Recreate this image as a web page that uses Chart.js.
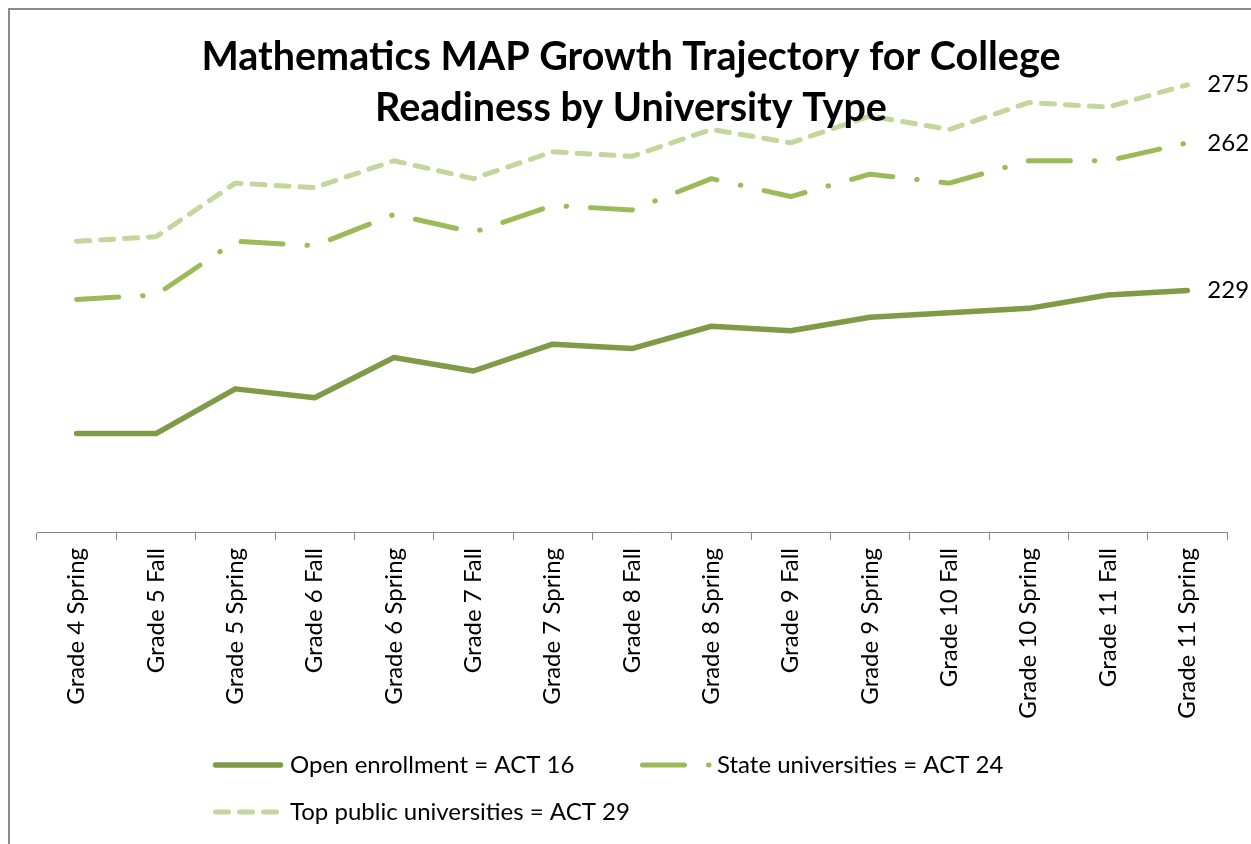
<!DOCTYPE html>
<html>
<head>
<meta charset="utf-8">
<script src="https://cdn.jsdelivr.net/npm/chart.js@4"></script>
<style>
  html, body { margin: 0; padding: 0; background: #fff; }
  #wrap { position: relative; width: 1251px; height: 844px; overflow: hidden; }
  #frame { position: absolute; left: 8px; top: 8px; width: 1400px; height: 1000px;
           border-left: 2px solid #8a8a8a; border-top: 2px solid #8a8a8a; }
  canvas { position: absolute; left: 0; top: 0; }
</style>
</head>
<body>
<div id="wrap">
  <div id="frame"></div>
  <canvas id="chart" width="1251" height="844"></canvas>
</div>
<script>
// data
const categories = ['Grade 4 Spring', 'Grade 5 Fall', 'Grade 5 Spring', 'Grade 6 Fall', 'Grade 6 Spring',
  'Grade 7 Fall', 'Grade 7 Spring', 'Grade 8 Fall', 'Grade 8 Spring', 'Grade 9 Fall', 'Grade 9 Spring',
  'Grade 10 Fall', 'Grade 10 Spring', 'Grade 11 Fall', 'Grade 11 Spring'];
const openEnrollment = [197, 197, 207, 205, 214, 211, 217, 216, 221, 220, 223, 224, 225, 228, 229];
const stateUniversities = [227, 228, 240, 239, 246, 242, 248, 247, 254, 250, 255, 253, 258, 258, 262];
const topPublic = [240, 241, 253, 252, 258, 254, 260, 259, 265, 262, 268, 265, 271, 270, 275];
const seriesNames = ['Open enrollment = ACT 16', 'State universities = ACT 24', 'Top public universities = ACT 29'];
const titleLines = ['Mathematics MAP Growth Trajectory for College', 'Readiness by University Type'];

const FONT = 'Lato, "Open Sans", sans-serif';

// title, value labels at the end of each line and the legend
const overlay = {
  id: 'overlay',
  afterDraw(chart) {
    const ctx = chart.ctx;
    ctx.save();
    ctx.fillStyle = '#000';
    ctx.textAlign = 'center';
    ctx.textBaseline = 'middle';
    ctx.font = 'bold 39.5px ' + FONT;
    ctx.fillText(titleLines[0], 631, 57);
    ctx.fillText(titleLines[1], 631, 108);

    ctx.font = '24px ' + FONT;
    ctx.textAlign = 'left';
    chart.data.datasets.forEach((ds, i) => {
      const meta = chart.getDatasetMeta(i);
      const last = meta.data[meta.data.length - 1];
      ctx.fillText(String(ds.data[ds.data.length - 1]), last.x + 20, last.y);
    });

    const items = [
      { i: 0, x0: 215.5, x1: 280.5, y: 765, tx: 290 },
      { i: 1, x0: 642.5, x1: 709.5, y: 765, tx: 717 },
      { i: 2, x0: 215.5, x1: 276.5, y: 812, tx: 290 }
    ];
    items.forEach(it => {
      const ds = chart.data.datasets[it.i];
      ctx.save();
      ctx.strokeStyle = ds.borderColor;
      ctx.lineWidth = ds.borderWidth;
      ctx.lineCap = 'round';
      ctx.setLineDash(ds.borderDash || []);
      ctx.beginPath();
      ctx.moveTo(it.x0, it.y);
      ctx.lineTo(it.x1, it.y);
      ctx.stroke();
      ctx.restore();
      ctx.fillText(ds.label, it.tx, it.y);
    });
    ctx.restore();
  }
};

new Chart(document.getElementById('chart'), {
  type: 'line',
  data: {
    labels: categories,
    datasets: [
      {
        label: seriesNames[0],
        data: openEnrollment,
        borderColor: '#7f9b47',
        borderWidth: 5.5,
        borderCapStyle: 'round',
        borderJoinStyle: 'round'
      },
      {
        label: seriesNames[1],
        data: stateUniversities,
        borderColor: '#9bbb59',
        borderWidth: 5,
        borderDash: [42, 24, 0.5, 24],
        borderCapStyle: 'round',
        borderJoinStyle: 'round'
      },
      {
        label: seriesNames[2],
        data: topPublic,
        borderColor: '#c3d69b',
        borderWidth: 5,
        borderDash: [13, 11],
        borderCapStyle: 'round',
        borderJoinStyle: 'round'
      }
    ]
  },
  options: {
    responsive: false,
    animation: false,
    layout: { padding: { left: 37, right: 24, top: 40, bottom: 0 } },
    elements: { point: { radius: 0 }, line: { tension: 0 } },
    plugins: {
      legend: { display: false },
      tooltip: { enabled: false }
    },
    scales: {
      x: {
        offset: true,
        border: { display: true, color: '#868686', width: 1 },
        grid: { offset: true, drawOnChartArea: false, drawTicks: true, tickLength: 8, color: '#868686' },
        ticks: {
          autoSkip: false,
          maxRotation: 90,
          minRotation: 90,
          padding: 8,
          color: '#000',
          font: { family: FONT, size: 24 }
        },
        afterFit(scale) { scale.height = 312; }
      },
      y: {
        display: false,
        min: 175,
        max: 285
      }
    }
  },
  plugins: [overlay]
});
</script>
</body>
</html>
